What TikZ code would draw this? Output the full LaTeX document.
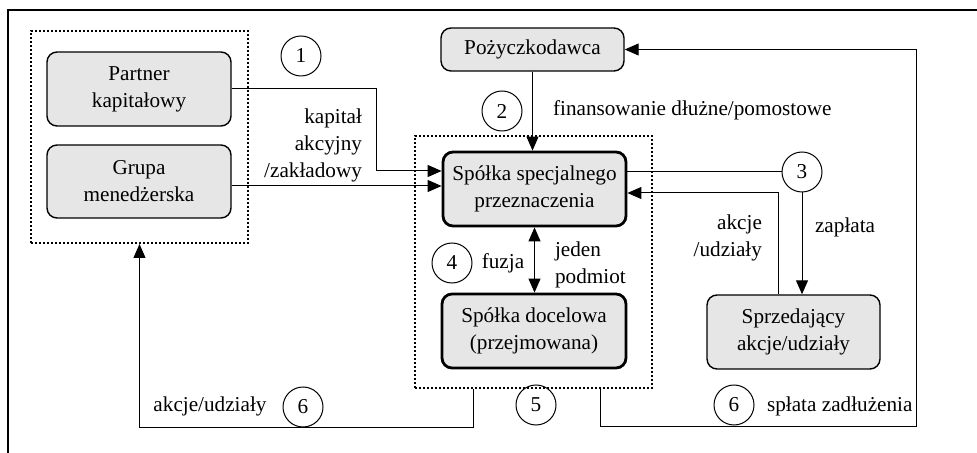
\documentclass[tikz,border=0pt]{standalone}
\usepackage{fontspec}
\setmainfont{Liberation Serif}
\definecolor{BoxGray}{RGB}{230,230,230}
\usetikzlibrary{arrows.meta, calc}

\begin{document}
\begin{tikzpicture}[
  x=0.5pt, y=-0.5pt,
  font=\fontsize{10.6}{13.5}\selectfont,
  party/.style={draw, fill=BoxGray, rounded corners=5pt, line width=0.7pt, align=center, inner sep=2pt},
  mainparty/.style={party, line width=1.4pt},
  group/.style={draw, line width=1pt, dash pattern=on 1pt off 1pt},
  stepno/.style={draw, circle, minimum size=20pt, inner sep=0pt, line width=0.5pt},
  flow/.style={line width=0.5pt},
  arr/.style={flow, -{Triangle[length=7pt,width=6pt]}},
  twoarr/.style={flow, {Triangle[length=7pt,width=6pt]}-{Triangle[length=7pt,width=6pt]}}
]
\useasboundingbox (0,0) rectangle (977,453);

% frame
\draw[line width=0.6pt] (8,453) -- (8,10) -- (977,10);

% dotted groups
\node[group, minimum width=108.5pt, minimum height=106pt] (investors) at (139.5,137) {};
\node[group, minimum width=118.5pt, minimum height=126pt] (newco) at (533.5,262) {};

% parties
\node[party, minimum width=92pt, minimum height=37pt] (partner) at (139,89) {Partner\\kapitałowy};
\node[party, minimum width=92pt, minimum height=36.5pt] (grupa) at (139,181.5) {Grupa\\menedżerska};
\node[party, minimum width=91.5pt, minimum height=21.5pt] (lender) at (532.5,49.5) {Pożyczkodawca};
\node[mainparty, minimum width=91.5pt, minimum height=37pt] (spv) at (534.5,189) {Spółka specjalnego\\przeznaczenia};
\node[mainparty, minimum width=92pt, minimum height=37pt] (target) at (534,331) {Spółka docelowa\\(przejmowana)};
\node[party, minimum width=86.5pt, minimum height=37pt] (seller) at (793.5,332) {Sprzedający\\akcje/udziały};

% step numbers
\node[stepno] (c1) at (301,56) {1};
\node[stepno] (c2) at (502,111) {2};
\node[stepno] (c3) at (802,172) {3};
\node[stepno] (c4) at (452,263) {4};
\node[stepno] (c5) at (536,405) {5};
\node[stepno] (c6a) at (303,407) {6};
\node[stepno] (c6b) at (734,405) {6};

% labels
\node[anchor=east, align=right] (capital) at (369,145) {kapitał\\akcyjny\\/zakładowy};
\node[anchor=west] (debt) at (546,110) {finansowanie dłużne/pomostowe};
\node[anchor=east, align=right] (shares) at (769,238) {akcje\\/udziały};
\node[anchor=west] (pay) at (808,227) {zapłata};
\node (merge) at (503,263) {fuzja};
\node[anchor=west, align=left] (single) at (548,265) {jeden\\podmiot};
\node (sharesout) at (210,406) {akcje/udziały};
\node[anchor=west] (repay) at (760,406) {spłata zadłużenia};

% flows
\coordinate (pin) at ($(spv.west)+(0,-18)$);
\coordinate (gin) at ($(spv.west)+(0,-3)$);
\draw[arr] (partner.east) -| ($(pin)+(-65,0)$) -- (pin);
\draw[arr] (grupa.east |- gin) -- (gin);
\draw[arr] (lender.south) -- (lender.south |- spv.north);
\draw[flow] (spv.east |- c3) -- (c3.west);
\draw[arr] (c3.south) -- (c3.south |- seller.north);
\coordinate (ret) at (778,193);
\draw[arr] (ret |- seller.north) -- (ret) -- (ret -| spv.east);
\draw[twoarr] (spv.south) -- (spv.south |- target.north);
\coordinate (b1) at (473,427);
\draw[arr] (b1 |- newco.south) -- (b1) -| (investors.south);
\coordinate (b2) at (600,426);
\coordinate (b3) at (916,426);
\draw[arr] (b2 |- newco.south) -- (b2) -- (b3) |- (lender.east);
\end{tikzpicture}
\end{document}
